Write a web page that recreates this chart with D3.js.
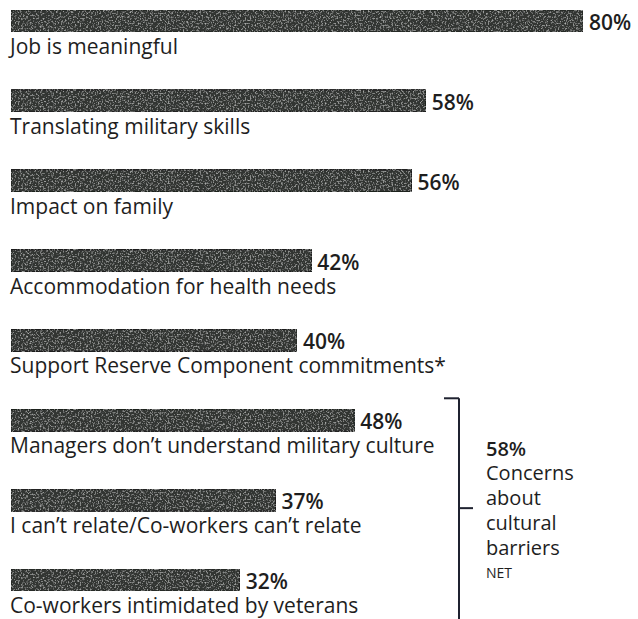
<!DOCTYPE html>
<html>
<head>
<meta charset="utf-8">
<script src="https://cdn.jsdelivr.net/npm/d3@7"></script>
<style>
  body { margin: 0; background: #fff; }
  svg { display: block; }
</style>
</head>
<body>
<div id="chart"></div>
<script>
// values
var categories = [
  "Job is meaningful",
  "Translating military skills",
  "Impact on family",
  "Accommodation for health needs",
  "Support Reserve Component commitments*",
  "Managers don\u2019t understand military culture",
  "I can\u2019t relate/Co-workers can\u2019t relate",
  "Co-workers intimidated by veterans"
]
var values = [80, 58, 56, 42, 40, 48, 37, 32]

// the three bottom rows are grouped by the bracket
var groupCats = categories.slice(5)
var netValue = 58
var netLines = ["Concerns", "about", "cultural", "barriers"]
var netTag = "NET"

drawbars()

function drawbars() {
  const width = 638
  const height = 619
  const barH = 22
  const labelFont = "'Open Sans', 'Noto Sans', sans-serif"

  var data = categories.map(function(c, i) {
    return { name: c, value: values[i] }
  })

  var svg = d3.select("#chart")
    .append("svg")
    .attr("width", width)
    .attr("height", height)

  // speckled scan look for the bars
  var defs = svg.append("defs")
  var f = defs.append("filter")
    .attr("id", "grain")
    .attr("x", 0).attr("y", 0).attr("width", 1).attr("height", 1)
  f.append("feTurbulence")
    .attr("type", "fractalNoise")
    .attr("baseFrequency", 0.6)
    .attr("numOctaves", 2)
    .attr("seed", 3)
    .attr("result", "noise")
  f.append("feColorMatrix")
    .attr("in", "noise")
    .attr("type", "matrix")
    .attr("values", "0 0 0 0 0.42  0 0 0 0 0.43  0 0 0 0 0.42  0 0 0 -3 1.45")
    .attr("result", "spots")
  f.append("feComposite")
    .attr("in", "spots").attr("in2", "SourceGraphic")
    .attr("operator", "atop")
    .attr("result", "sp")
  f.append("feMerge").call(function(m) {
    m.append("feMergeNode").attr("in", "SourceGraphic")
    m.append("feMergeNode").attr("in", "sp")
  })

  const xScale = d3.scaleLinear()
    .domain([0, 80])
    .range([11, 583])

  const yScale = d3.scalePoint()
    .domain(categories)
    .range([10, 569])

  var rows = svg.append("g")
    .attr("class", "rows")
    .selectAll("g")
    .data(data)
    .enter()
    .append("g")
    .attr("transform", d => `translate(0,${yScale(d.name)})`)

  rows.append("rect")
    .attr("x", xScale(0))
    .attr("y", 0)
    .attr("width", d => xScale(d.value) - xScale(0))
    .attr("height", barH)
    .style("fill", "#323533")
    .style("stroke", "#1c1e1d")
    .style("stroke-width", 1)
    .attr("filter", "url(#grain)")

  rows.append("text")
    .attr("x", d => xScale(d.value) + 6)
    .attr("y", 20)
    .text(d => d.value + "%")
    .style("font-family", labelFont)
    .style("font-weight", 600)
    .style("font-size", "21px")
    .style("fill", "#1e1e1e")

  rows.append("text")
    .attr("x", xScale(0) - 1)
    .attr("y", 44)
    .text(d => d.name)
    .style("font-family", labelFont)
    .style("font-size", "21px")
    .style("fill", "#1e1e1e")

  // bracket for the grouped rows
  var top = yScale(groupCats[0]) - 11
  var bottom = yScale(groupCats[groupCats.length - 1]) + 49
  var mid = (top + bottom) / 2
  var bx = 459

  var br = svg.append("g")
    .attr("class", "bracket")
    .style("stroke", "#1f2230")
    .style("stroke-width", 2)
    .style("fill", "none")
  br.append("line").attr("x1", bx).attr("x2", bx).attr("y1", top).attr("y2", bottom + 10)
  br.append("line").attr("x1", bx - 15).attr("x2", bx).attr("y1", top).attr("y2", top)
  br.append("line").attr("x1", bx).attr("x2", bx + 14).attr("y1", mid).attr("y2", mid)

  var nt = svg.append("g")
    .attr("class", "net")
    .attr("transform", `translate(${bx + 27},0)`)

  nt.append("text")
    .attr("x", 0)
    .attr("y", 456)
    .text(netValue + "%")
    .style("font-family", labelFont)
    .style("font-weight", 600)
    .style("font-size", "20px")
    .style("fill", "#1e1e1e")

  nt.selectAll(".nl")
    .data(netLines)
    .enter()
    .append("text")
    .attr("class", "nl")
    .attr("x", 0)
    .attr("y", (d, i) => 480 + i * 25)
    .text(d => d)
    .style("font-family", labelFont)
    .style("font-size", "20px")
    .style("fill", "#1e1e1e")

  nt.append("text")
    .attr("x", 0)
    .attr("y", 480 + netLines.length * 25 - 2)
    .text(netTag)
    .style("font-family", labelFont)
    .style("font-size", "14px")
    .style("fill", "#1e1e1e")
}
</script>
</body>
</html>
